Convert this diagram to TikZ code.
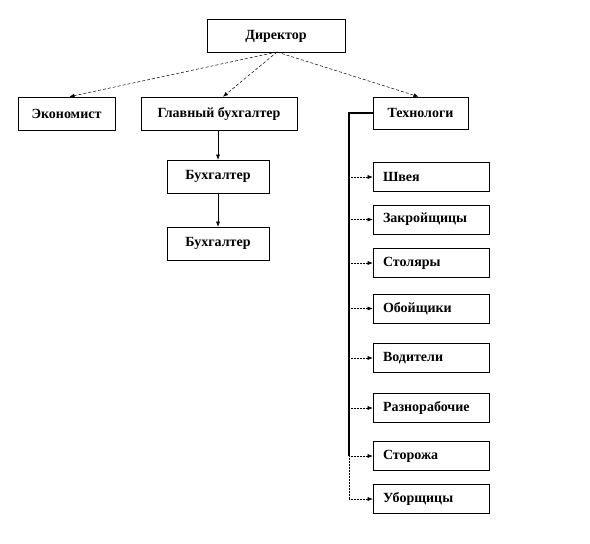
\documentclass[tikz,border=0pt]{standalone}
\usepackage{fontspec}
\setmainfont{Liberation Serif}
\usetikzlibrary{arrows.meta}
\begin{document}
\begin{tikzpicture}[x=1pt,y=-1pt,
  box/.style={draw=black, line width=0.6pt, fill=white, inner sep=0pt, font=\fontsize{14}{16}\selectfont\bfseries},
  con/.style={line width=0.5pt, -{Latex[length=5pt,width=4pt]}},
  dcon/.style={con, densely dashed},
  ocon/.style={con, densely dotted}]
\useasboundingbox (0,0) rectangle (590,544);
\node[box, minimum width=138pt, minimum height=33pt] (dir) at (276,36) {Директор};
\node[box, minimum width=97pt, minimum height=33pt] (eco) at (66.5,113.5) {Экономист};
\node[box, minimum width=156pt, minimum height=33pt] (gb) at (219,113.5) {Главный бухгалтер};
\node[box, minimum width=95pt, minimum height=32pt] (tech) at (420.5,113) {Технологи};
\node[box, minimum width=102pt, minimum height=33pt] (b1) at (218,176.5) {Бухгалтер};
\node[box, minimum width=102pt, minimum height=33pt] (b2) at (218,243.5) {Бухгалтер};
\tikzset{wbox/.style={box, minimum width=116pt, minimum height=29pt, text width=96pt, align=left}}
\node[wbox] (w1) at (431,177) {Швея};
\node[wbox] (w2) at (431,219.5) {Закройщицы};
\node[wbox] (w3) at (431,263) {Столяры};
\node[wbox] (w4) at (431,308.5) {Обойщики};
\node[wbox] (w5) at (431,358) {Водители};
\node[wbox] (w6) at (431,408) {Разнорабочие};
\node[wbox] (w7) at (431,456) {Сторожа};
\node[wbox] (w8) at (431,499) {Уборщицы};
\coordinate (top) at (277,52);
\draw[dcon] (top) -- ([xshift=3pt]eco.north);
\draw[dcon] (top) -- ([xshift=4pt]gb.north);
\draw[dcon] (top) -- ([xshift=-2pt]tech.north);
\draw[con] (gb.south -| b1.north) -- (b1.north);
\draw[con] (b1.south) -- (b2.north);
\coordinate (v0) at (349,113);
\coordinate (v7) at (349,456);
\coordinate (v8) at (349,499);
\draw[line width=1.5pt] (tech.west) -- (v0) -- (v7);
\draw[line width=0.5pt, densely dotted] (v7) -- (v8);
\foreach \i in {1,...,8} {
  \draw[ocon] (v0 |- w\i.west) -- (w\i.west);
}
\end{tikzpicture}
\end{document}
